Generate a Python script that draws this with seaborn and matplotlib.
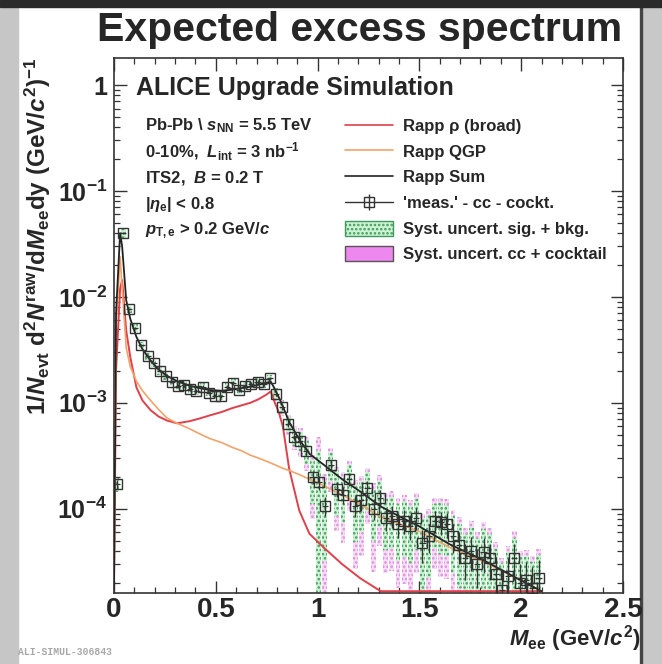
import numpy as np
import seaborn as sns
import matplotlib.pyplot as plt
from matplotlib.lines import Line2D
from matplotlib.patches import Patch, Rectangle
from matplotlib.ticker import FixedLocator, MultipleLocator, LogLocator, NullFormatter

# %%
# 'meas.' - cc - cocktail points (bin centres in GeV/c^2)
mass = np.array([
    0.015, 0.045, 0.075, 0.105, 0.135, 0.165, 0.195, 0.225, 0.255, 0.285,
    0.315, 0.345, 0.375, 0.405, 0.435, 0.465, 0.495, 0.525, 0.555, 0.585,
    0.615, 0.645, 0.675, 0.705, 0.735, 0.765, 0.795, 0.825, 0.855, 0.885,
    0.915, 0.945, 0.975, 1.005, 1.035, 1.065, 1.095, 1.125, 1.155, 1.185,
    1.215, 1.245, 1.275, 1.305, 1.335, 1.365, 1.395, 1.425, 1.455, 1.485,
    1.515, 1.545, 1.575, 1.605, 1.635, 1.665, 1.695, 1.725, 1.755, 1.785,
    1.815, 1.845, 1.875, 1.905, 1.935, 1.965, 1.995, 2.025, 2.055, 2.085])
meas = np.array([
    1.7e-4, 4.0e-2, 7.6e-3, 5.1e-3, 3.5e-3, 2.75e-3, 2.35e-3, 2.0e-3, 1.78e-3, 1.58e-3,
    1.45e-3, 1.48e-3, 1.35e-3, 1.30e-3, 1.42e-3, 1.25e-3, 1.17e-3, 1.15e-3, 1.42e-3, 1.55e-3,
    1.33e-3, 1.45e-3, 1.50e-3, 1.58e-3, 1.50e-3, 1.70e-3, 1.22e-3, 9.1e-4, 6.3e-4, 4.8e-4,
    4.4e-4, 3.5e-4, 2.0e-4, 1.77e-4, 1.07e-4, 2.6e-4, 1.55e-4, 1.35e-4, 1.9e-4, 1.07e-4,
    1.2e-4, 1.58e-4, 1.0e-4, 1.26e-4, 8.2e-5, 8.6e-5, 7.2e-5, 7.7e-5, 6.9e-5, 8.2e-5,
    4.7e-5, 5.5e-5, 7.7e-5, 7.5e-5, 7.2e-5, 5.5e-5, 4.5e-5, 3.4e-5, 4.0e-5, 3.0e-5,
    3.9e-5, 3.4e-5, 2.4e-5, 1.7e-5, 2.3e-5, 3.4e-5, 2.0e-5, 2.1e-5, 1.8e-5, 2.2e-5])
stat_rel = np.array([
    0.10, 0.02, 0.02, 0.02, 0.03, 0.03, 0.03, 0.03, 0.03, 0.03,
    0.04, 0.04, 0.04, 0.04, 0.04, 0.04, 0.04, 0.04, 0.04, 0.04,
    0.04, 0.04, 0.04, 0.04, 0.04, 0.04, 0.05, 0.06, 0.07, 0.08,
    0.09, 0.10, 0.14, 0.15, 0.20, 0.12, 0.16, 0.18, 0.14, 0.22,
    0.20, 0.16, 0.22, 0.18, 0.25, 0.24, 0.26, 0.25, 0.27, 0.24,
    0.35, 0.30, 0.24, 0.25, 0.26, 0.30, 0.33, 0.38, 0.35, 0.40,
    0.36, 0.38, 0.45, 0.55, 0.48, 0.38, 0.50, 0.50, 0.55, 0.50])
syst_sig_rel = np.array([
    0.15, 0.10, 0.08, 0.08, 0.08, 0.08, 0.08, 0.08, 0.08, 0.08,
    0.08, 0.08, 0.08, 0.08, 0.08, 0.08, 0.08, 0.08, 0.08, 0.08,
    0.08, 0.08, 0.08, 0.08, 0.08, 0.08, 0.12, 0.14, 0.16, 0.18,
    0.20, 0.24, 0.45, 1.00, 0.70, 0.30, 0.45, 0.45, 0.35, 0.55,
    0.50, 0.40, 0.50, 0.45, 0.50, 0.50, 0.55, 0.55, 0.55, 0.50,
    0.70, 0.60, 0.45, 0.50, 0.50, 0.55, 0.60, 0.70, 0.65, 0.75,
    0.65, 0.70, 0.75, 0.80, 0.70, 0.55, 0.75, 0.70, 0.75, 0.65])
syst_cc_rel = np.array([
    0.05, 0.04, 0.04, 0.04, 0.04, 0.04, 0.04, 0.04, 0.04, 0.04,
    0.05, 0.05, 0.05, 0.05, 0.05, 0.05, 0.05, 0.05, 0.05, 0.05,
    0.05, 0.05, 0.05, 0.05, 0.05, 0.06, 0.14, 0.18, 0.22, 0.26,
    0.30, 0.35, 0.60, 1.70, 1.00, 0.45, 0.60, 0.65, 0.50, 0.75,
    0.70, 0.55, 0.75, 0.65, 0.70, 0.70, 0.75, 0.75, 0.75, 0.70,
    0.90, 0.80, 0.65, 0.70, 0.70, 0.75, 0.85, 0.95, 0.90, 1.00,
    0.90, 0.95, 1.00, 1.00, 0.95, 0.80, 1.00, 0.95, 1.00, 0.90])

# Rapp model curves
rapp_mass = [0.0, 0.01, 0.03, 0.04, 0.06, 0.08, 0.11, 0.14, 0.18, 0.22,
             0.26, 0.31, 0.37, 0.42, 0.47, 0.53, 0.58, 0.63, 0.67, 0.71,
             0.75, 0.77, 0.79, 0.81, 0.83, 0.86, 0.91, 0.96, 1.03, 1.12,
             1.21, 1.31, 1.40, 1.50, 1.65, 1.81, 1.98, 2.10]
rapp_rho = [1e-7, 2e-3, 1.2e-2, 1.44e-2, 4.8e-3, 2.7e-3, 1.4e-3, 1.05e-3, 8.5e-4, 7.4e-4,
            6.8e-4, 6.4e-4, 6.7e-4, 7.1e-4, 7.6e-4, 8.2e-4, 8.9e-4, 9.5e-4, 1.0e-3, 1.08e-3,
            1.2e-3, 1.28e-3, 1.0e-3, 8.1e-4, 5.9e-4, 2.4e-4, 9.6e-5, 5.8e-5, 4.3e-5, 3.0e-5,
            2.2e-5, 1.6e-5, 1e-6, 1e-6, 1e-6, 1e-6, 1e-6, 1e-6]
rapp_qgp = [1e-7, 5e-3, 2.4e-2, 1.2e-2, 3.3e-3, 2.2e-3, 1.6e-3, 1.3e-3, 1.05e-3, 8.6e-4,
            7.2e-4, 6.4e-4, 5.7e-4, 5.1e-4, 4.6e-4, 4.2e-4, 3.8e-4, 3.5e-4, 3.2e-4, 3.0e-4,
            2.8e-4, 2.7e-4, 2.6e-4, 2.5e-4, 2.4e-4, 2.3e-4, 2.1e-4, 1.9e-4, 1.65e-4, 1.35e-4,
            1.1e-4, 8.4e-5, 7.2e-5, 6.1e-5, 4.3e-5, 3.2e-5, 2.2e-5, 1.5e-5]
rapp_sum = [1e-7, 7e-3, 4.0e-2, 3.0e-2, 9.3e-3, 6.2e-3, 4.2e-3, 3.2e-3, 2.5e-3, 2.05e-3,
            1.8e-3, 1.6e-3, 1.45e-3, 1.38e-3, 1.32e-3, 1.3e-3, 1.33e-3, 1.38e-3, 1.42e-3, 1.48e-3,
            1.55e-3, 1.58e-3, 1.35e-3, 1.12e-3, 9.2e-4, 6.6e-4, 4.5e-4, 3.3e-4, 2.6e-4, 1.9e-4,
            1.45e-4, 1.05e-4, 8.5e-5, 6.8e-5, 4.6e-5, 3.3e-5, 2.2e-5, 1.6e-5]

ylo, yhi = 1.6e-5, 1.8
xtick_vals = [0, 0.5, 1, 1.5, 2, 2.5]
xtick_labels = ['0', '0.5', '1', '1.5', '2', '2.5']
ytick_vals = [1e-4, 1e-3, 1e-2, 1e-1, 1]
ytick_labels = ['10$^{-4}$', '10$^{-3}$', '10$^{-2}$', '10$^{-1}$', '1']

# %%
sns.set_theme(style='ticks')
plt.rcParams['font.family'] = ['Liberation Sans', 'DejaVu Sans']
plt.rcParams['font.weight'] = 'bold'
plt.rcParams['mathtext.fontset'] = 'custom'
plt.rcParams['mathtext.rm'] = 'Liberation Sans:bold'
plt.rcParams['mathtext.it'] = 'Liberation Sans:bold:italic'
plt.rcParams['mathtext.bf'] = 'Liberation Sans:bold'
plt.rcParams['mathtext.fallback'] = 'cm'
plt.rcParams['hatch.linewidth'] = 1.2

fig = plt.figure(figsize=(6.62, 6.64), dpi=100)
fig.patch.set_facecolor('white')
# grey borders of the screenshot
fig.add_artist(Rectangle((0, 0), 18/662, 1, transform=fig.transFigure, color='#c6c6c6', zorder=-5))
fig.add_artist(Rectangle((641/662, 0), 21/662, 1, transform=fig.transFigure, color='#c8c8c8', zorder=-5))
fig.add_artist(Rectangle((640/662, 0), 2/662, 1, transform=fig.transFigure, color='#444444', zorder=-4))
fig.add_artist(Rectangle((0, 1 - 7/664), 1, 7/664, transform=fig.transFigure, color='#2a2a2a', zorder=-4))

ax = fig.add_axes([114/662, 71/664, 509/662, 535/664])
ax.set_yscale('log')
ax.set_xlim(0, 2.5)
ax.set_ylim(ylo, yhi)

# systematic boxes
top_cc = meas * (1 + syst_cc_rel)
bot_cc = np.clip(meas * (1 - syst_cc_rel), 1e-7, None)
ax.bar(mass, top_cc - bot_cc, bottom=bot_cc, width=0.024, color='#f7dcf7',
       edgecolor='#d98ed9', hatch='....', linewidth=0, zorder=1)
top_sig = meas * (1 + syst_sig_rel)
bot_sig = np.clip(meas * (1 - syst_sig_rel), 1e-7, None)
ax.bar(mass, top_sig - bot_sig, bottom=bot_sig, width=0.024, color='#cdf3d2',
       edgecolor='#3f9a5e', hatch='....', linewidth=0, zorder=2)

# model curves (ROOT draws values below the range on the frame)
floor = ylo * 1.04
sns.lineplot(x=rapp_mass, y=np.clip(rapp_rho, floor, None), ax=ax, color='#e0404c', lw=1.4, zorder=3)
sns.lineplot(x=rapp_mass, y=np.clip(rapp_qgp, floor, None), ax=ax, color='#f2a36a', lw=1.2, zorder=3)
sns.lineplot(x=rapp_mass, y=np.clip(rapp_sum, floor, None), ax=ax, color='#222222', lw=1.3, zorder=4)

# data points
ax.errorbar(mass, meas, xerr=0.015, yerr=stat_rel * meas, fmt='s', ms=7,
            mfc='none', mec='#333333', mew=1.0, ecolor='#333333', elinewidth=0.9,
            zorder=5)

# axes styling
for s in ax.spines.values():
    s.set_color('#333333')
    s.set_linewidth(1.2)
ax.xaxis.set_major_locator(FixedLocator(xtick_vals))
ax.set_xticklabels(xtick_labels)
ax.xaxis.set_minor_locator(MultipleLocator(0.1))
ax.yaxis.set_major_locator(FixedLocator(ytick_vals))
ax.set_yticklabels(ytick_labels)
ax.yaxis.set_minor_locator(LogLocator(base=10, subs=np.arange(2, 10)))
ax.yaxis.set_minor_formatter(NullFormatter())
ax.tick_params(which='both', direction='in', top=True, right=True, color='#333333')
ax.tick_params(which='major', length=9, width=1.0)
ax.tick_params(which='minor', length=4.5, width=0.9)
ax.tick_params(axis='x', labelsize=20, pad=3)
ax.tick_params(axis='y', labelsize=18, pad=5)
for t in ax.get_xticklabels() + ax.get_yticklabels():
    t.set_fontweight('bold')

ax.set_xlabel(r'$M_{\rm ee}$ (GeV/$c^2$)', fontsize=16, fontweight='bold', loc='right')
ax.xaxis.set_label_coords(1.035, -0.057)
ax.set_ylabel(r'1/$N_{\rm evt}$ d$^2$$N^{\rm raw}$/d$M_{\rm ee}$dy (GeV/$c^2$)$^{-1}$',
              fontsize=17.5, fontweight='bold', loc='top')
ax.yaxis.set_label_coords(-0.12, 1.0)

# texts
fig.text(360/662, 1 - 30/664, 'Expected excess spectrum', ha='center', va='center',
         fontsize=29.5, fontweight='bold')
ax.text(0.043, 0.944, 'ALICE Upgrade Simulation', transform=ax.transAxes,
        fontsize=18, fontweight='bold', va='center')
info = ['Pb-Pb \\ $s_{\\rm NN}$ = 5.5 TeV',
        '0-10%,  $L_{\\rm int}$ = 3 nb$^{-1}$',
        'ITS2,  $B$ = 0.2 T',
        '|$\\eta_{\\rm e}$| < 0.8',
        '$p_{\\rm T,e}$ > 0.2 GeV/$c$']
for i, line in enumerate(info):
    ax.text(0.061, 0.873 - i * 0.049, line, transform=ax.transAxes, fontsize=12,
            fontweight='bold', va='center')

meas_handle = (Line2D([], [], color='#333333', lw=1.0, marker='s', ms=7, mfc='none', mew=1.0),
               Line2D([], [], ls='none', color='#333333', marker='|', ms=12, mew=1.0))
handles = [Line2D([], [], color='#e0404c', lw=1.2),
           Line2D([], [], color='#f2a36a', lw=1.2),
           Line2D([], [], color='#222222', lw=1.2),
           meas_handle,
           Patch(facecolor='#cdf3d2', edgecolor='#3f9a5e', hatch='....', lw=1),
           Patch(facecolor='#ee88ee', edgecolor='#555555', lw=1)]
labels = ['Rapp ρ (broad)', 'Rapp QGP', 'Rapp Sum', "'meas.' - cc - cockt.",
          'Syst. uncert. sig. + bkg.', 'Syst. uncert. cc + cocktail']
ax.legend(handles, labels, loc='upper left', bbox_to_anchor=(0.454, 0.888),
          frameon=False, borderpad=0, borderaxespad=0,
          handlelength=2.9, handleheight=1.0, handletextpad=0.6, labelspacing=0.57,
          prop={'weight': 'bold', 'size': 12})

fig.text(18/662, 1 - 652/664, 'ALI-SIMUL-306843', family='Liberation Mono',
         fontsize=7, color='#a8a8a8', va='center')

plt.savefig('out.png', dpi=100)
